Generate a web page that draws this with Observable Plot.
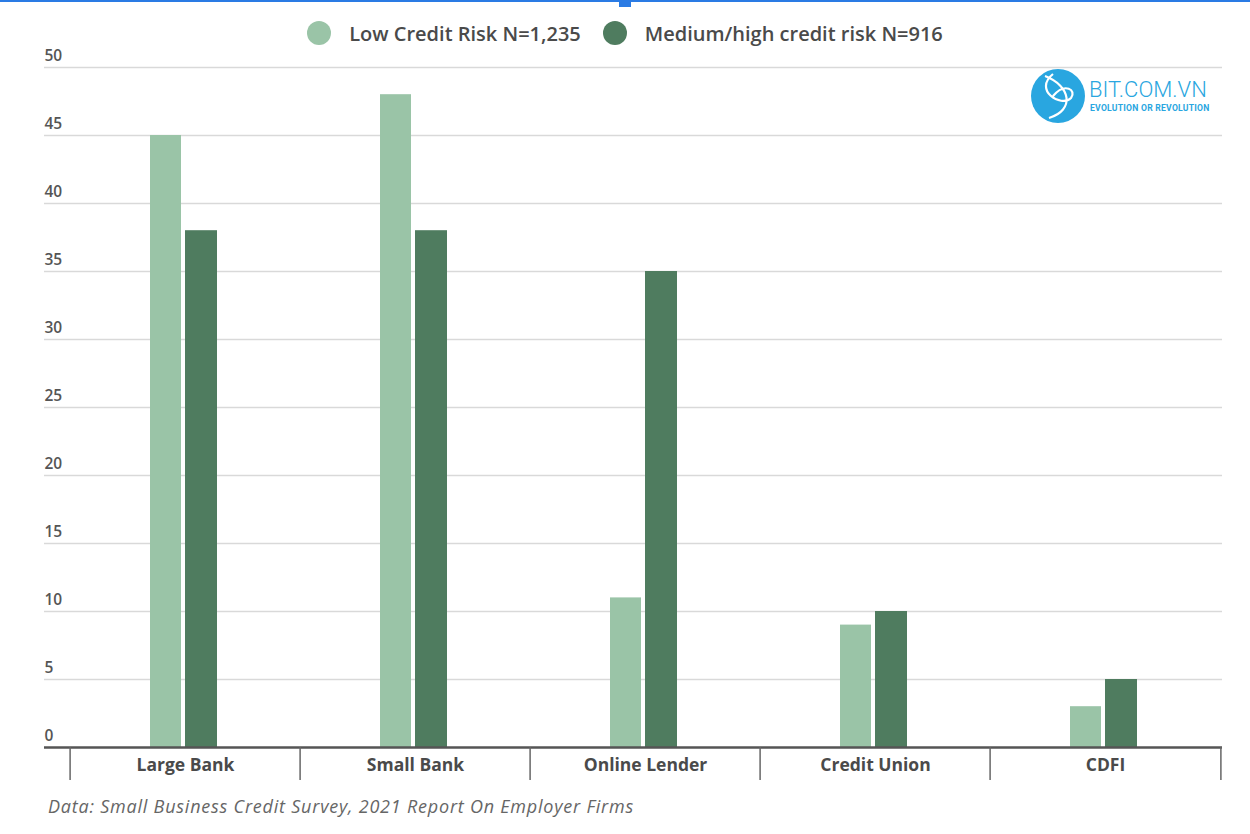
<!DOCTYPE html>
<html>
<head>
<meta charset="utf-8">
<script src="https://cdn.jsdelivr.net/npm/d3@7"></script>
<script src="https://cdn.jsdelivr.net/npm/@observablehq/plot@0.6"></script>
<style>
  html, body { margin: 0; padding: 0; background: #fff; width: 1250px; height: 834px; overflow: hidden; position: relative; }
  #topline { position: absolute; left: 0; top: 0; width: 1250px; height: 2px; background: #2a7be4; z-index: 2; }
  #topsq { position: absolute; left: 619px; top: 0; width: 12px; height: 7px; background: #2a7be4; z-index: 2; }
  #legend { position: absolute; left: 0; top: 20px; width: 1250px; height: 26px; display: flex; justify-content: center; align-items: center; font-family: "Open Sans", sans-serif; font-weight: 600; font-size: 20px; color: #4a4a4a; z-index: 2; }
  #legend .item { display: flex; align-items: center; margin: 0 11px; }
  #legend .sw { width: 24px; height: 24px; border-radius: 50%; margin-right: 18px; }
  #chart { height: 795px; }
  #caption { font-family: "Open Sans", sans-serif; font-style: italic; font-size: 18px; letter-spacing: 0.78px; color: #666; padding-left: 48px; line-height: 22px; margin-top: 0px; }
  #logo { position: absolute; left: 1031px; top: 68px; width: 190px; height: 60px; z-index: 2; }
</style>
</head>
<body>
<div id="topline"></div><div id="topsq"></div>
<div id="legend"></div>
<div id="chart"></div>
<div id="caption">Data: Small Business Credit Survey, 2021 Report On Employer Firms</div>
<svg id="logo" viewBox="0 0 190 60" width="190" height="60">
  <circle cx="27" cy="28" r="27" fill="#29a6e0"/>
  <path d="M14 8 C 40 18, 44 42, 18 50 M 22 6 C 2 22, 30 40, 40 30 C 46 22, 34 14, 22 28" fill="none" stroke="#fff" stroke-width="2.2"/>
  <text x="58" y="29" font-family="Roboto, sans-serif" font-size="22" fill="#29a6e0" font-weight="300">BIT.COM.VN</text>
  <text x="59" y="43" font-family="Roboto, sans-serif" font-size="8.6" fill="#29a6e0" font-weight="bold" letter-spacing="0.25">EVOLUTION OR REVOLUTION</text>
</svg>
<script>
const categories = ["Large Bank", "Small Bank", "Online Lender", "Credit Union", "CDFI"];
const seriesNames = ["Low Credit Risk N=1,235", "Medium/high credit risk N=916"];
const lowRisk = [45, 48, 11, 9, 3];
const highRisk = [38, 38, 35, 10, 5];
const yTicks = [0, 5, 10, 15, 20, 25, 30, 35, 40, 45, 50];
const colors = ["#9ac4a7", "#4f7c5f"];

const legend = document.getElementById("legend");
seriesNames.forEach((n, i) => {
  const it = document.createElement("div");
  it.className = "item";
  it.innerHTML = `<span class="sw" style="background:${colors[i]}"></span><span>${n}</span>`;
  legend.appendChild(it);
});

const lowData = categories.map((c, i) => ({category: c, value: lowRisk[i]}));
const highData = categories.map((c, i) => ({category: c, value: highRisk[i]}));

const chart = Plot.plot({
  width: 1250,
  height: 795,
  marginLeft: 44,
  marginRight: 28,
  marginTop: 67,
  marginBottom: 48,
  style: {fontFamily: "'Open Sans', sans-serif", background: "#fff"},
  x: {domain: categories, range: [68, 1222], padding: 0},
  y: {domain: [0, 50], range: [747, 67]},
  marks: [
    Plot.gridY(yTicks.filter(d => d > 0), {stroke: "#d9d9d9", strokeOpacity: 1, strokeWidth: 1.3}),
    Plot.axisY(yTicks, {tickSize: 0, tickPadding: 0, textAnchor: "start", dx: 0, dy: -11, fontSize: 15.5, fontWeight: 600, fill: "#555", label: null}),
    Plot.barY(lowData, {x: "category", y: "value", fill: colors[0], insetLeft: 80, insetRight: 119}),
    Plot.barY(highData, {x: "category", y: "value", fill: colors[1], insetLeft: 115, insetRight: 83}),
    Plot.ruleY([0], {stroke: "#555", strokeWidth: 2.5}),
    Plot.axisX({tickSize: 0, tickPadding: 11, fontSize: 17.5, fontWeight: "bold", fill: "#4a4a4a", label: null}),
    Plot.axisX({ticks: categories, tickSize: 33, tickPadding: 0, text: null, dx: -115.4, stroke: "#666", strokeWidth: 1.5, label: null}),
    Plot.axisX({ticks: [categories[categories.length - 1]], tickSize: 33, tickPadding: 0, text: null, dx: 115.4, stroke: "#666", strokeWidth: 1.5, label: null})
  ]
});
document.getElementById("chart").appendChild(chart);
</script>
</body>
</html>
